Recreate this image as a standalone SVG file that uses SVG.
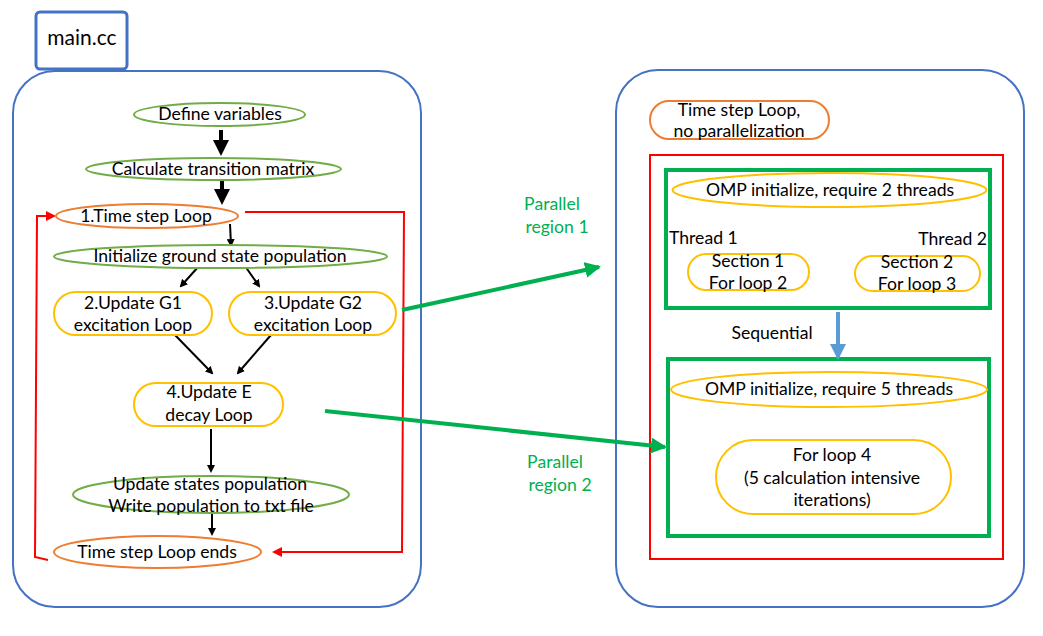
<svg xmlns="http://www.w3.org/2000/svg" width="1043" height="636" viewBox="0 0 1043 636">
<style>
text{font-family:Lato,"Liberation Sans",sans-serif;font-size:17.6px;fill:#000;text-anchor:middle}
.g{stroke:#70AD47;stroke-width:2;fill:#fff}
.o{stroke:#ED7D31;stroke-width:2;fill:#fff}
.y{stroke:#FFC000;stroke-width:2;fill:#fff}
.blue{stroke:#4472C4;stroke-width:2;fill:none}
.gl{fill:#00B050}
.k{stroke:#000;fill:none}
.r{stroke:#FF0000;stroke-width:2;fill:none}
</style>
<defs>
<marker id="ak" markerWidth="4" markerHeight="4" refX="3" refY="2" orient="auto" markerUnits="strokeWidth"><path d="M0,0 L4,2 L0,4z" fill="#000"/></marker>
<marker id="ar" markerWidth="5" markerHeight="5" refX="4" refY="2.5" orient="auto" markerUnits="strokeWidth"><path d="M0,0 L5,2.5 L0,5z" fill="#FF0000"/></marker>
<marker id="ag" markerWidth="4" markerHeight="4" refX="3.5" refY="2" orient="auto" markerUnits="strokeWidth"><path d="M0,0 L4,2 L0,4z" fill="#00B050"/></marker>
<marker id="ab" markerWidth="4" markerHeight="4" refX="3.5" refY="2" orient="auto" markerUnits="strokeWidth"><path d="M0,0 L4,2 L0,4z" fill="#5B9BD5"/></marker>
</defs>
<g id="containers">
<rect x="36" y="12" width="91" height="57" rx="4" fill="#fff" stroke="#4472C4" stroke-width="3"/>
<text x="82" y="45" style="font-size:21px">main.cc</text>
<rect class="blue" x="13" y="71" width="408" height="536" rx="42"/>
<rect class="blue" x="616" y="70" width="408" height="537" rx="42"/>
<rect class="r" x="650" y="155" width="353" height="404"/>
<rect x="666" y="170" width="324" height="138" fill="none" stroke="#00B050" stroke-width="4"/>
<rect x="668" y="359" width="321" height="177" fill="none" stroke="#00B050" stroke-width="4"/>
</g>
<g id="connectors">
<line class="k" x1="221" y1="130" x2="221" y2="152" stroke-width="4" marker-end="url(#ak)"/>
<line class="k" x1="222" y1="180" x2="222" y2="201" stroke-width="4" marker-end="url(#ak)"/>
<line class="k" x1="230" y1="224" x2="231" y2="245" stroke-width="2" marker-end="url(#ak)"/>
<line class="k" x1="199" y1="266" x2="181" y2="286" stroke-width="2" marker-end="url(#ak)"/>
<line class="k" x1="245" y1="266" x2="259" y2="286" stroke-width="2" marker-end="url(#ak)"/>
<line class="k" x1="175" y1="335" x2="212" y2="373" stroke-width="2" marker-end="url(#ak)"/>
<line class="k" x1="271" y1="335" x2="238" y2="373" stroke-width="2" marker-end="url(#ak)"/>
<line class="k" x1="211" y1="429" x2="211" y2="471" stroke-width="2" marker-end="url(#ak)"/>
<line class="k" x1="212" y1="513" x2="212" y2="534" stroke-width="2" marker-end="url(#ak)"/>
<polyline class="r" points="245,212 404,212 402,552 274,552" marker-end="url(#ar)"/>
<polyline class="r" points="48,560 35,557 37,216 54,216" marker-end="url(#ar)"/>
<line x1="402" y1="310" x2="599" y2="267" stroke="#00B050" stroke-width="4" marker-end="url(#ag)"/>
<line x1="325" y1="411" x2="665" y2="447" stroke="#00B050" stroke-width="4" marker-end="url(#ag)"/>
<line x1="838" y1="312" x2="838" y2="358" stroke="#5B9BD5" stroke-width="4" marker-end="url(#ab)"/>
<text class="gl" x="552" y="210">Parallel</text>
<text class="gl" x="557" y="233">region 1</text>
<text class="gl" x="555" y="468">Parallel</text>
<text class="gl" x="560" y="491">region 2</text>
<text x="772" y="339">Sequential</text>
</g>
<g id="n-define"><ellipse class="g" cx="219.5" cy="114.5" rx="85.5" ry="11.5"/><text x="220" y="120">Define variables</text></g>
<g id="n-calc"><ellipse class="g" cx="213.5" cy="169" rx="127.5" ry="11"/><text x="213" y="175">Calculate transition matrix</text></g>
<g id="n-loop1"><ellipse class="o" cx="147" cy="216" rx="91" ry="12"/><text x="146" y="222">1.Time step Loop</text></g>
<g id="n-init"><ellipse class="g" cx="220.5" cy="256.5" rx="166.5" ry="11.5"/><text x="220" y="262">Initialize ground state population</text></g>
<g id="n-g1"><rect class="y" x="54" y="292" width="158" height="43" rx="21.5"/><text x="133" y="309">2.Update G1</text><text x="133" y="331">excitation Loop</text></g>
<g id="n-g2"><rect class="y" x="229" y="292" width="167" height="43" rx="21.5"/><text x="313" y="309">3.Update G2</text><text x="313" y="331">excitation Loop</text></g>
<g id="n-e"><rect class="y" x="134" y="383" width="149" height="43" rx="21.5"/><text x="209" y="398">4.Update E</text><text x="209" y="421">decay Loop</text></g>
<g id="n-update"><ellipse class="g" cx="211" cy="494.5" rx="138" ry="18.5"/><text x="210" y="490">Update states population</text><text x="211" y="512">Write population to txt file</text></g>
<g id="n-ends"><ellipse class="o" cx="157.5" cy="552" rx="103.5" ry="16"/><text x="157" y="558">Time step Loop ends</text></g>
<g id="n-tsl"><rect class="o" x="650" y="101" width="179" height="38" rx="19"/><text x="739" y="116">Time step Loop,</text><text x="739" y="137">no parallelization</text></g>
<g id="n-omp2"><ellipse class="y" cx="829.5" cy="190" rx="157" ry="17"/><text x="830" y="196">OMP initialize, require 2 threads</text></g>
<g id="n-t1"><text x="669" y="244" style="text-anchor:start">Thread 1</text></g>
<g id="n-t2"><text x="987" y="245" style="text-anchor:end">Thread 2</text></g>
<g id="n-s1"><rect class="y" x="688" y="254" width="121" height="36" rx="18"/><text x="748" y="267">Section 1</text><text x="748" y="289">For loop 2</text></g>
<g id="n-s2"><rect class="y" x="855" y="256" width="125" height="35" rx="17.5"/><text x="917" y="268">Section 2</text><text x="917" y="290">For loop 3</text></g>
<g id="n-omp5"><ellipse class="y" cx="829" cy="389.5" rx="158" ry="17.5"/><text x="829" y="395">OMP initialize, require 5 threads</text></g>
<g id="n-for4"><rect class="y" x="716" y="440" width="235" height="74" rx="37"/><text x="832" y="461">For loop 4</text><text x="832" y="484">(5 calculation intensive</text><text x="832" y="506">iterations)</text></g>
</svg>
